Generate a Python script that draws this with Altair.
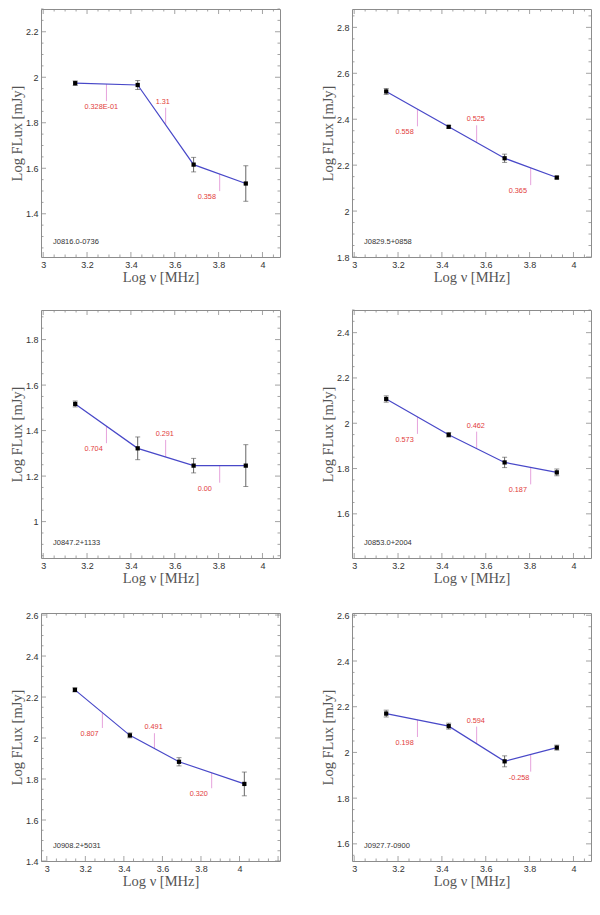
import math

import altair as alt
import pandas as pd

# log frequency [MHz] of the observing bands (1.4, 2.7, 4.85, 8.4 / 10.6 GHz)
nu_std = [3.146, 3.431, 3.686, 3.924]
nu_j0908 = [3.146, 3.431, 3.686, 4.025]

# log flux [mJy], its error and the spectral index written on each segment
flux_0816 = [1.974, 1.966, 1.616, 1.533]
err_0816 = [0.010, 0.020, 0.032, 0.078]
alpha_0816 = ["0.328E-01", "1.31", "0.358"]

flux_0829 = [2.521, 2.367, 2.230, 2.146]
err_0829 = [0.013, 0.006, 0.018, 0.006]
alpha_0829 = ["0.558", "0.525", "0.365"]

flux_0847 = [1.517, 1.322, 1.246, 1.246]
err_0847 = [0.013, 0.050, 0.032, 0.092]
alpha_0847 = ["0.704", "0.291", "0.00"]

flux_0853 = [2.107, 1.949, 1.827, 1.783]
err_0853 = [0.014, 0.010, 0.023, 0.015]
alpha_0853 = ["0.573", "0.462", "0.187"]

flux_0908 = [2.235, 2.013, 1.884, 1.776]
err_0908 = [0.010, 0.012, 0.020, 0.058]
alpha_0908 = ["0.807", "0.491", "0.320"]

flux_0927 = [2.170, 2.115, 1.961, 2.021]
err_0927 = [0.015, 0.013, 0.024, 0.011]
alpha_0927 = ["0.198", "0.594", "-0.258"]

# axis ranges of each panel
xdom_std = [2.99, 4.08]
xdom_0908 = [2.97, 4.21]
ydom_0816 = [1.21, 2.30]
ydom_0829 = [1.80, 2.88]
ydom_0847 = [0.84, 1.93]
ydom_0853 = [1.405, 2.50]
ydom_0908 = [1.40, 2.61]
ydom_0927 = [1.525, 2.61]

W, H = 239, 248
FRAME = "#8c8c8c"
SANS = "Liberation Sans"
SERIF = "Liberation Serif"


def steps(dom, step):
    k0 = math.ceil(dom[0] / step - 1e-6)
    k1 = math.floor(dom[1] / step + 1e-6)
    return [round(k * step, 3) for k in range(k0, k1 + 1)]


def panel(name, nu, flux, err, alpha, xdom, ydom):
    xs = alt.Scale(domain=xdom, nice=False, zero=False)
    ys = alt.Scale(domain=ydom, nice=False, zero=False)
    common = dict(format="~g", ticks=False, domain=False, grid=False,
                  labelFont=SANS, labelFontSize=9, labelColor="#333",
                  titleFont=SERIF, titleFontSize=14.5, titleFontWeight="normal",
                  titleColor="#555")
    xmaj = steps(xdom, 0.2)
    ymaj = steps(ydom, 0.2)
    xax = alt.Axis(values=[v for v in xmaj if v <= 4.0], title="Log ν [MHz]",
                   labelPadding=3, titlePadding=1, **common)
    yax = alt.Axis(values=ymaj, title="Log FLux [mJy]",
                   labelPadding=3, titlePadding=1, **common)

    def X(f):
        return alt.X(f, scale=xs, axis=xax)

    def Y(f):
        return alt.Y(f, scale=ys, axis=yax)

    pts = pd.DataFrame({"nu": nu, "flux": flux,
                        "lo": [f - e for f, e in zip(flux, err)],
                        "hi": [f + e for f, e in zip(flux, err)]})

    # spectral index markers sit half way along each segment
    up = [False, True, False]
    xm = [(nu[i] + nu[i + 1]) / 2 for i in range(3)]
    ym = [(flux[i] + flux[i + 1]) / 2 for i in range(3)]
    tip = [y + (0.075 if u else -0.075) for y, u in zip(ym, up)]
    segs = pd.DataFrame({"xm": xm, "ym": ym, "tip": tip, "lab": alpha, "up": up})

    def rules(vals, side, ln):
        base = alt.Chart(pd.DataFrame({"v": vals})).mark_rule(color=FRAME, strokeWidth=0.8)
        if side == "bottom":
            return base.encode(x=X("v:Q"), y=alt.value(H), y2=alt.value(H - ln))
        if side == "top":
            return base.encode(x=X("v:Q"), y=alt.value(0), y2=alt.value(ln))
        if side == "left":
            return base.encode(y=Y("v:Q"), x=alt.value(0), x2=alt.value(ln))
        return base.encode(y=Y("v:Q"), x=alt.value(W), x2=alt.value(W - ln))

    xmin = [v for v in steps(xdom, 0.05) if v not in xmaj]
    ymin = [v for v in steps(ydom, 0.05) if v not in ymaj]
    frame_ticks = []
    for side in ["bottom", "top"]:
        frame_ticks += [rules(xmaj, side, 5), rules(xmin, side, 2.5)]
    for side in ["left", "right"]:
        frame_ticks += [rules(ymaj, side, 5), rules(ymin, side, 2.5)]

    seg = alt.Chart(segs)
    marker = seg.mark_rule(color="#e6a2dc", strokeWidth=1).encode(
        x=X("xm:Q"), y=Y("ym:Q"), y2="tip:Q")
    lab_up = seg.transform_filter("datum.up").mark_text(
        color="#e23c3c", font=SANS, fontSize=7.3, align="left",
        baseline="bottom", dx=-10, dy=-2).encode(x=X("xm:Q"), y=Y("tip:Q"), text="lab:N")
    lab_dn = seg.transform_filter("!datum.up").mark_text(
        color="#e23c3c", font=SANS, fontSize=7.3, align="left",
        baseline="top", dx=-22, dy=2).encode(x=X("xm:Q"), y=Y("tip:Q"), text="lab:N")

    base = alt.Chart(pts)
    bars = base.mark_rule(color="#555", strokeWidth=0.9).encode(
        x=X("nu:Q"), y=Y("lo:Q"), y2="hi:Q")
    cap_lo = base.mark_tick(orient="horizontal", size=5, thickness=0.9, color="#555").encode(
        x=X("nu:Q"), y=Y("lo:Q"))
    cap_hi = base.mark_tick(orient="horizontal", size=5, thickness=0.9, color="#555").encode(
        x=X("nu:Q"), y=Y("hi:Q"))
    line = base.mark_line(color="#4848c8", strokeWidth=1.2).encode(
        x=X("nu:Q"), y=Y("flux:Q"))
    dots = base.mark_square(size=18, color="black", opacity=1).encode(
        x=X("nu:Q"), y=Y("flux:Q"))

    tag = alt.Chart(pd.DataFrame({"name": [name]})).mark_text(
        font=SANS, fontSize=7.5, color="#333", align="left", baseline="middle").encode(
        x=alt.value(12), y=alt.value(H - 15), text="name:N")

    return alt.layer(*frame_ticks, marker, lab_up, lab_dn, bars, cap_lo, cap_hi,
                     line, dots, tag).properties(width=W, height=H)


p1 = panel("J0816.0-0736", nu_std, flux_0816, err_0816, alpha_0816, xdom_std, ydom_0816)
p2 = panel("J0829.5+0858", nu_std, flux_0829, err_0829, alpha_0829, xdom_std, ydom_0829)
p3 = panel("J0847.2+1133", nu_std, flux_0847, err_0847, alpha_0847, xdom_std, ydom_0847)
p4 = panel("J0853.0+2004", nu_std, flux_0853, err_0853, alpha_0853, xdom_std, ydom_0853)
p5 = panel("J0908.2+5031", nu_j0908, flux_0908, err_0908, alpha_0908, xdom_0908, ydom_0908)
p6 = panel("J0927.7-0900", nu_std, flux_0927, err_0927, alpha_0927, xdom_std, ydom_0927)

chart = alt.vconcat(
    alt.hconcat(p1, p2, spacing=38),
    alt.hconcat(p3, p4, spacing=38),
    alt.hconcat(p5, p6, spacing=38),
    spacing=25,
    padding={"left": 0, "top": 0, "right": 0, "bottom": 6},
).configure_view(stroke=FRAME, strokeWidth=1)

chart.save("out.html", embed_options={"renderer": "svg", "actions": False})
